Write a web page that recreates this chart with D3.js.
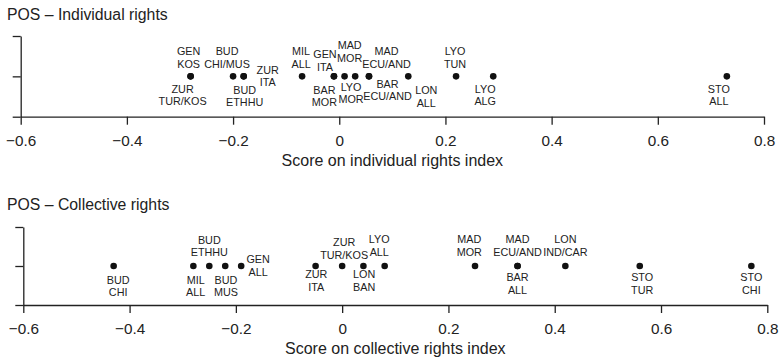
<!DOCTYPE html>
<html>
<head>
<meta charset="utf-8">
<script src="https://cdn.jsdelivr.net/npm/d3@7"></script>
<style>
  body { margin: 0; background: #fff; }
  svg { display: block; font-family: "Liberation Sans", Arial, sans-serif; }
</style>
</head>
<body>
<svg id="chart" width="781" height="360"></svg>
<script>
// Individual rights scores per city / group
const indivCity  = ["GEN", "ZUR", "BUD", "BUD", "ZUR", "MIL", "GEN", "BAR", "LYO", "MAD", "MAD", "BAR", "LON", "LYO", "LYO", "STO"];
const indivGroup = ["KOS", "TUR/KOS", "CHI/MUS", "ETHHU", "ITA", "ALL", "ITA", "MOR", "MOR", "MOR", "ECU/AND", "ECU/AND", "ALL", "TUN", "ALG", "ALL"];
const indivScore = [-0.28, -0.28, -0.20, -0.18, -0.18, -0.07, -0.01, -0.01, 0.01, 0.03, 0.056, 0.056, 0.13, 0.22, 0.29, 0.73];

// Collective rights scores per city / group
const collCity  = ["BUD", "MIL", "BUD", "BUD", "GEN", "ZUR", "ZUR", "LON", "LYO", "MAD", "MAD", "BAR", "LON", "STO", "STO"];
const collGroup = ["CHI", "ALL", "ETHHU", "MUS", "ALL", "ITA", "TUR/KOS", "BAN", "ALL", "MOR", "ECU/AND", "ALL", "IND/CAR", "TUR", "CHI"];
const collScore = [-0.43, -0.28, -0.25, -0.22, -0.19, -0.05, 0.00, 0.04, 0.08, 0.25, 0.33, 0.33, 0.42, 0.56, 0.77];

const xTicks = [-0.6, -0.4, -0.2, 0, 0.2, 0.4, 0.6, 0.8];

// Label placement: side of the dot, horizontal nudge, vertical nudge
const indivPlace = [
  ["above", -2, 0], ["below", -8, 0], ["above", -6, 0], ["below", 1, 1], ["right", 24, 0],
  ["above", -1, 0], ["above", -9, 3], ["below", -9.5, 1], ["below", 6.5, -2], ["above", -5.5, -6],
  ["above", 17.5, 0], ["below", 18.5, -5], ["below", 18, 1.5], ["above", -1, 0], ["below", -8, 0],
  ["below", -8, 0]
];
const collPlace = [
  ["below", 4.5, 1.5], ["below", 2.3, 1.5], ["above", 0, -1], ["below", 0.7, 1.5], ["right", 17, 0],
  ["below", 0.7, -4], ["above", 2, 1.5], ["below", 0.7, -4], ["above", -5.4, -1.5], ["above", -5.7, -1.5],
  ["above", 0, -1.5], ["below", 0, -1], ["above", 0, -1.5], ["below", 2.4, -1], ["below", 0, -1]
];

const svg = d3.select("#chart");
const ink = "#222";
const fmt = d => d === 0 ? "0" : d3.format(".1f")(d);

function panel(cfg) {
  const g = svg.append("g");
  const x = d3.scaleLinear().domain([-0.6, 0.8]).range([cfg.x0, cfg.x1]);
  const y = d3.scaleLinear().domain([0, 2]).range([cfg.yBottom, cfg.yTop]);

  g.append("text")
    .attr("x", 7).attr("y", cfg.titleY)
    .attr("font-size", 15.8).attr("fill", ink)
    .text(cfg.title);

  const xa = g.append("g")
    .attr("transform", `translate(0,${cfg.yBottom})`)
    .call(d3.axisBottom(x).tickValues(xTicks).tickFormat(fmt)
      .tickSize(8).tickSizeOuter(0).tickPadding(10.3));
  xa.selectAll("path, line").attr("stroke", ink).attr("stroke-width", 1.3);
  xa.selectAll("text").attr("font-size", 15.3).attr("fill", ink)
    .attr("font-family", "Liberation Sans, Arial, sans-serif");

  const ya = g.append("g")
    .attr("transform", `translate(${cfg.x0},0)`)
    .call(d3.axisLeft(y).tickValues([0, 1, 2]).tickFormat("")
      .tickSize(8).tickSizeOuter(0));
  ya.selectAll("path, line").attr("stroke", ink).attr("stroke-width", 1.3);

  g.append("text")
    .attr("x", x(0.1)).attr("y", cfg.yBottom + 49.3)
    .attr("text-anchor", "middle")
    .attr("font-size", 16).attr("fill", ink)
    .text(cfg.axisTitle);

  const rows = cfg.score.map((s, i) => ({
    s, city: cfg.city[i], group: cfg.group[i], place: cfg.place[i]
  }));
  const yDot = y(1);

  g.selectAll("circle").data(rows).join("circle")
    .attr("cx", d => x(d.s)).attr("cy", yDot).attr("r", 3.3)
    .attr("fill", "#111");

  const offsets = { above: [-25, -12.5], below: [12.5, 25], right: [-6.5, 6] };
  const lab = g.selectAll("g.lab").data(rows).join("g").attr("class", "lab");
  lab.each(function (d) {
    const [side, dx, dy] = d.place;
    const [o1, o2] = offsets[side];
    const cx = x(d.s) + dx;
    [[d.city, o1], [d.group, o2]].forEach(([t, o]) => {
      d3.select(this).append("text")
        .attr("x", cx).attr("y", yDot + o + dy)
        .attr("dy", "0.36em")
        .attr("text-anchor", "middle")
        .attr("font-size", 10.8).attr("fill", ink)
        .text(t);
    });
  });
}

panel({
  title: "POS – Individual rights", titleY: 19.6,
  axisTitle: "Score on individual rights index",
  x0: 20.7, x1: 764, yTop: 36, yBottom: 116.7,
  city: indivCity, group: indivGroup, score: indivScore, place: indivPlace
});

panel({
  title: "POS – Collective rights", titleY: 209.6,
  axisTitle: "Score on collective rights index",
  x0: 23.3, x1: 767.3, yTop: 227, yBottom: 305,
  city: collCity, group: collGroup, score: collScore, place: collPlace
});
</script>
</body>
</html>
